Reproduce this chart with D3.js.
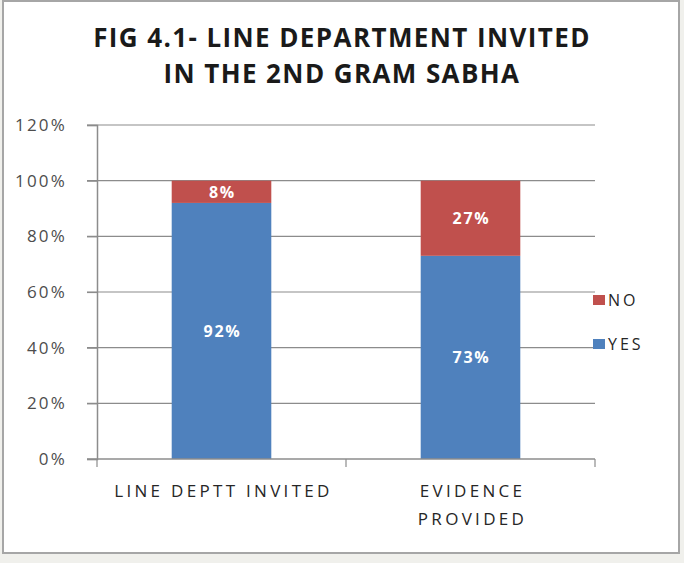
<!DOCTYPE html>
<html lang="en">
<head>
	<meta charset="utf-8">
	<title>Line department invited in the 2nd Gram Sabha</title>
	<script type="text/javascript" src="https://d3js.org/d3.v7.min.js"></script>
	<style type="text/css">
		body { margin: 0; background: #f0f0ec; }
		svg { display: block; }
	</style>
</head>
<body>
	<script type="text/javascript">
		// chart data
		var categories = ["LINE DEPTT INVITED", "EVIDENCE PROVIDED"];
		var yesValues = [92, 73];
		var noValues = [8, 27];
		var yTicks = [0, 20, 40, 60, 80, 100, 120];
		var seriesNames = ["NO", "YES"];
		var seriesColors = ["#c0504d", "#4f81bd"];

		var w = 684, h = 563;
		var svg = d3.select("body").append("svg")
			.attr("width", w)
			.attr("height", h);

		// chart frame
		svg.append("rect")
			.attr("x", 3).attr("y", 1)
			.attr("width", 676).attr("height", 552)
			.attr("fill", "white")
			.attr("stroke", "#a6a6a6")
			.attr("stroke-width", 2);

		// title
		svg.append("text")
			.attr("text-anchor", "middle")
			.attr("font-family", "Open Sans, sans-serif")
			.attr("font-weight", "bold")
			.attr("font-size", "26px")
			.attr("letter-spacing", "1.4px")
			.attr("fill", "#1a1a1a")
			.selectAll("tspan")
			.data(["FIG 4.1- LINE DEPARTMENT INVITED", "IN THE 2ND GRAM SABHA"])
			.enter().append("tspan")
			.attr("x", 342)
			.attr("y", function(d, i) { return 47 + i * 36; })
			.text(function(d) { return d; });

		var plotL = 97, plotR = 595, plotT = 125, plotB = 459;

		var x = d3.scaleBand()
			.domain(categories)
			.range([plotL, plotR])
			.paddingInner(0.6)
			.paddingOuter(0.3);

		var y = d3.scaleLinear()
			.domain([0, 120])
			.range([plotB, plotT]);

		// gridlines
		svg.append("g")
			.selectAll("line")
			.data(yTicks.filter(function(d) { return d > 0; }))
			.enter().append("line")
			.attr("x1", plotL - 10).attr("x2", plotR)
			.attr("y1", function(d) { return y(d); })
			.attr("y2", function(d) { return y(d); })
			.attr("stroke", "#8c8c8c")
			.attr("stroke-width", 1.2);

		// y axis
		var yAxis = svg.append("g")
			.attr("transform", "translate(" + plotL + ",0)")
			.call(d3.axisLeft(y).tickValues(yTicks).tickSize(10)
				.tickFormat(function(d) { return d + "%"; }));
		yAxis.select(".domain").attr("stroke", "#8c8c8c").attr("stroke-width", 1.5);
		yAxis.selectAll(".tick line").attr("stroke", "#8c8c8c").attr("stroke-width", 1.2);
		yAxis.selectAll(".tick text")
			.attr("x", -30)
			.attr("font-family", "Open Sans, sans-serif")
			.attr("font-size", "17px")
			.attr("letter-spacing", "2.2px")
			.attr("fill", "#4d4d4d");

		// stacked bars
		var stackData = categories.map(function(c, i) {
			return { cat: c, YES: yesValues[i], NO: noValues[i] };
		});
		var stack = d3.stack().keys(["YES", "NO"])(stackData);
		var color = d3.scaleOrdinal().domain(seriesNames).range(seriesColors);

		var layers = svg.selectAll("g.layer")
			.data(stack)
			.enter().append("g")
			.attr("class", "layer")
			.attr("fill", function(d) { return color(d.key); });

		layers.selectAll("rect")
			.data(function(d) { return d; })
			.enter().append("rect")
			.attr("x", function(d) { return x(d.data.cat); })
			.attr("width", x.bandwidth())
			.attr("y", function(d) { return y(d[1]); })
			.attr("height", function(d) { return y(d[0]) - y(d[1]); });

		// value labels
		layers.selectAll("text")
			.data(function(d) { return d; })
			.enter().append("text")
			.attr("x", function(d) { return x(d.data.cat) + x.bandwidth() / 2 + 1; })
			.attr("y", function(d) { return (y(d[0]) + y(d[1])) / 2 + 6; })
			.attr("text-anchor", "middle")
			.attr("font-family", "Open Sans, sans-serif")
			.attr("font-weight", "bold")
			.attr("font-size", "16px")
			.attr("letter-spacing", "1.8px")
			.attr("fill", "white")
			.text(function(d) { return (d[1] - d[0]) + "%"; });

		// x axis
		var xAxisG = svg.append("g")
			.attr("transform", "translate(0," + plotB + ")");
		xAxisG.append("line")
			.attr("x1", plotL - 10).attr("x2", plotR)
			.attr("stroke", "#8c8c8c").attr("stroke-width", 1.5);
		var step = (plotR - plotL) / categories.length;
		xAxisG.selectAll("line.tick")
			.data(d3.range(categories.length + 1))
			.enter().append("line")
			.attr("class", "tick")
			.attr("x1", function(d) { return plotL + d * step; })
			.attr("x2", function(d) { return plotL + d * step; })
			.attr("y1", 0).attr("y2", 8)
			.attr("stroke", "#8c8c8c").attr("stroke-width", 1.2);

		var catLines = [["LINE DEPTT INVITED"], ["EVIDENCE", "PROVIDED"]];
		xAxisG.selectAll("text.cat")
			.data(categories)
			.enter().append("text")
			.attr("class", "cat")
			.attr("text-anchor", "middle")
			.attr("font-family", "Open Sans, sans-serif")
			.attr("font-size", "17px")
			.attr("letter-spacing", "3.3px")
			.attr("fill", "#262626")
			.each(function(d, i) {
				d3.select(this).selectAll("tspan")
					.data(catLines[i])
					.enter().append("tspan")
					.attr("x", x(d) + x.bandwidth() / 2 + 2)
					.attr("y", function(t, j) { return 38 + j * 28; })
					.text(function(t) { return t; });
			});

		// legend
		var legend = svg.append("g")
			.selectAll("g")
			.data(seriesNames)
			.enter().append("g")
			.attr("transform", function(d, i) { return "translate(593," + (300 + i * 44) + ")"; });
		legend.append("rect")
			.attr("x", 0).attr("y", -5)
			.attr("width", 12).attr("height", 10)
			.attr("fill", function(d) { return color(d); });
		legend.append("text")
			.attr("x", 15).attr("y", 6)
			.attr("font-family", "Open Sans, sans-serif")
			.attr("font-size", "16px")
			.attr("letter-spacing", "3px")
			.attr("fill", "#262626")
			.text(function(d) { return d; });
	</script>
</body>
</html>
